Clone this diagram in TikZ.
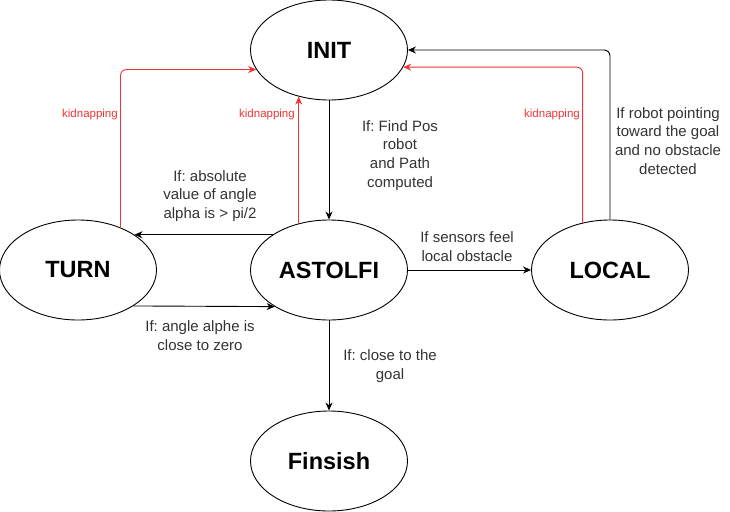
\documentclass[tikz,border=0pt]{standalone}
\usepackage{fontspec}
\setmainfont{Liberation Sans}
\frenchspacing
\usetikzlibrary{shapes.geometric,arrows.meta}
\definecolor{kidred}{RGB}{238,52,52}
\tikzset{
	state/.style={ellipse, draw, line width=0.9pt, minimum width=157pt, minimum height=100pt, inner sep=0pt, font=\fontsize{23.5}{28}\selectfont\bfseries},
	trans/.style={line width=0.9pt, -{Stealth[length=8pt,width=7pt]}},
	kidarrow/.style={trans, kidred, rounded corners=6pt},
	lbl/.style={align=center, text=black!80, font=\fontsize{15}{18.8}\selectfont},
	kid/.style={anchor=east, text=kidred, inner sep=1pt, font=\fontsize{11.5}{13}\selectfont}
}
\begin{document}
\begin{tikzpicture}[x=1pt,y=-1pt]
		\useasboundingbox (0,0) rectangle (730,511);

		\node[state] (init) at (329,50) {INIT};
		\node[state] (astolfi) at (329,270) {ASTOLFI};
		\node[state] (turn) at (78,270) {TURN};
		\node[state] (local) at (610,270) {LOCAL};
		\node[state] (finish) at (329,461) {Finsish};

		\draw[trans] (init) -- (astolfi);
		\draw[trans] (astolfi.148) -- (turn.32);
		\draw[trans] (turn.-33.4) -- (astolfi.-146.6);
		\draw[trans] (astolfi) -- (local);
		\draw[trans] (astolfi) -- (finish);
		\draw[trans, rounded corners=6pt] (local.north) |- (init.east);

		\draw[kidarrow] (turn.45.1) |- (init.195.5);
		\draw[kidarrow] (astolfi.123) -- (init.-123);
		\draw[kidarrow] (local.120.9) |- (init.-13.8);

		\node[kid] (kidturn) at (119,115) {kidnapping};
		\node[kid] (kidastolfi) at (296,115) {kidnapping};
		\node[kid] (kidlocal) at (581,115) {kidnapping};

		\node[lbl] (lblpos) at (400,155.5) {If: Find Pos\\robot\\and Path\\computed};
		\node[lbl] (lblabs) at (210,196) {If: absolute\\value of angle\\alpha is > pi/2};
		\node[lbl] (lblzero) at (200,336) {If: angle alphe is\\close to zero};
		\node[lbl] (lblsens) at (467,247) {If sensors feel\\local obstacle};
		\node[lbl] (lblgoal) at (390,366) {If: close to the\\goal};
		\node[lbl] (lblpoint) at (668,141) {If robot pointing\\toward the goal\\and no obstacle\\detected};
\end{tikzpicture}
\end{document}
